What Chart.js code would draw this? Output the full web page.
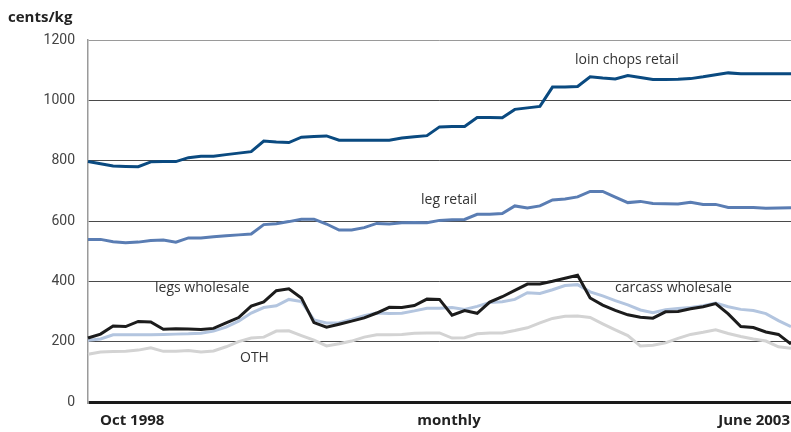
<!DOCTYPE html>
<html>
<head>
<meta charset="utf-8">
<script src="https://cdn.jsdelivr.net/npm/chart.js@4"></script>
<style>
  html, body { margin: 0; padding: 0; background: #fff; }
  #wrap { width: 791px; height: 432px; position: relative; }
</style>
</head>
<body>
<div id="wrap"><canvas id="lambChart"></canvas></div>
<script>
// Oct 1998 .. June 2003, monthly
const months = [];
for (let y = 1998, m = 9; y < 2003 || m <= 5; m++) {
    if (m > 11) { m = 0; y++; }
    months.push(y + '-' + String(m + 1).padStart(2, '0'));
}

const yTicks = [0, 200, 400, 600, 800, 1000, 1200];

const loinChopsRetail = [797, 790, 782, 781, 780, 796, 797, 797, 810, 815, 815, 820, 825, 830, 865, 862, 860, 878, 880, 882,
    868, 868, 868, 868, 868, 875, 879, 883, 912, 913, 913, 943, 943, 942, 970, 975, 980, 1044, 1044, 1046,
    1078, 1074, 1071, 1082, 1076, 1069, 1069, 1070, 1072, 1078, 1085, 1091, 1088, 1088, 1088, 1088, 1088];

const legRetail = [539, 539, 531, 528, 530, 535, 537, 530, 544, 544, 548, 551, 554, 557, 588, 591, 598, 606, 606, 590,
    570, 570, 578, 592, 590, 594, 595, 594, 602, 604, 605, 622, 622, 625, 650, 643, 650, 670, 673, 680,
    698, 698, 679, 661, 665, 658, 657, 656, 662, 655, 655, 645, 645, 645, 642, 643, 644];

const legsWholesale = [212, 225, 252, 250, 267, 265, 241, 243, 242, 240, 244, 262, 280, 318, 332, 369, 375, 345, 263, 248,
    258, 268, 279, 295, 314, 313, 320, 341, 340, 288, 303, 294, 331, 349, 370, 391, 391, 400, 410, 420,
    345, 321, 304, 289, 281, 278, 299, 300, 309, 316, 326, 292, 250, 247, 232, 224, 192];

const carcassWholesale = [205, 209, 223, 223, 223, 223, 224, 225, 226, 228, 235, 248, 268, 295, 313, 319, 340, 333, 272, 262,
    263, 274, 286, 295, 293, 294, 302, 311, 311, 313, 307, 317, 330, 332, 340, 362, 360, 372, 386, 389,
    365, 352, 336, 322, 305, 296, 306, 310, 313, 319, 328, 316, 307, 303, 293, 270, 250];

const oth = [158, 166, 167, 168, 172, 180, 168, 168, 171, 166, 169, 183, 200, 212, 215, 235, 236, 220, 205, 186,
    193, 202, 215, 223, 223, 224, 228, 229, 229, 212, 213, 226, 229, 229, 237, 246, 262, 277, 284, 285,
    280, 259, 239, 220, 186, 188, 196, 211, 224, 231, 239, 227, 217, 209, 202, 183, 178];

const labelFont = "'Open Sans', 'Noto Sans', sans-serif";

// text around the plot: unit, axis captions and series names
const textPlugin = {
    id: 'chartText',
    afterDraw(chart) {
        const ctx = chart.ctx;
        ctx.save();
        ctx.textBaseline = 'middle';
        ctx.fillStyle = '#222';
        ctx.font = 'bold 15px ' + labelFont;
        ctx.textAlign = 'left';
        ctx.fillText('cents/kg', 8, 18);
        ctx.fillText('Oct 1998', 100, 421);
        ctx.textAlign = 'center';
        ctx.fillText('monthly', 449, 421);
        ctx.textAlign = 'right';
        ctx.fillText('June 2003', 790, 421);

        ctx.font = '14px ' + labelFont;
        ctx.fillStyle = '#333';
        ctx.textAlign = 'left';
        ctx.fillText('loin chops retail', 575, 60);
        ctx.fillText('leg retail', 421, 200);
        ctx.fillText('legs wholesale', 155, 288);
        ctx.fillText('OTH', 240, 358);
        ctx.fillText('carcass wholesale', 615, 288);
        ctx.restore();
    }
};

function series(label, data, color, order) {
    return {
        label: label,
        data: data,
        borderColor: color,
        borderWidth: 3,
        pointRadius: 0,
        tension: 0,
        fill: false,
        order: order
    };
}

new Chart(document.getElementById('lambChart').getContext('2d'), {
    type: 'line',
    data: {
        labels: months,
        datasets: [
            series('loin chops retail', loinChopsRetail, '#0a4a80', 0),
            series('leg retail', legRetail, '#5a7db3', 0),
            series('legs wholesale', legsWholesale, '#1c1c1c', 1),
            series('carcass wholesale', carcassWholesale, '#b3c5df', 2),
            series('OTH', oth, '#d3d3d3', 3)
        ]
    },
    options: {
        responsive: true,
        maintainAspectRatio: false,
        animation: false,
        layout: { padding: { top: 40, left: 0, right: 0, bottom: 0 } },
        plugins: {
            legend: { display: false },
            tooltip: { enabled: false }
        },
        scales: {
            x: {
                type: 'category',
                offset: false,
                ticks: { display: false },
                grid: { display: false, drawTicks: false },
                border: { display: false },
                afterFit(scale) { scale.height = 30; }
            },
            y: {
                min: 0,
                max: 1200,
                afterBuildTicks(scale) { scale.ticks = yTicks.map(v => ({ value: v })); },
                ticks: {
                    padding: 13,
                    color: '#444',
                    font: { family: "Roboto, 'Liberation Sans', sans-serif", size: 14 },
                    callback: v => String(v)
                },
                grid: {
                    drawTicks: false,
                    color: ctx => ctx.tick.value === 0 ? '#1a1a1a' : (ctx.tick.value === 1200 ? '#9a9a9a' : '#4a4a4a'),
                    lineWidth: ctx => ctx.tick.value === 0 ? 3 : 1
                },
                border: { display: true, color: '#9a9a9a', width: 1.5 },
                afterFit(scale) { scale.width = 88; }
            }
        }
    },
    plugins: [textPlugin]
});
</script>
</body>
</html>
